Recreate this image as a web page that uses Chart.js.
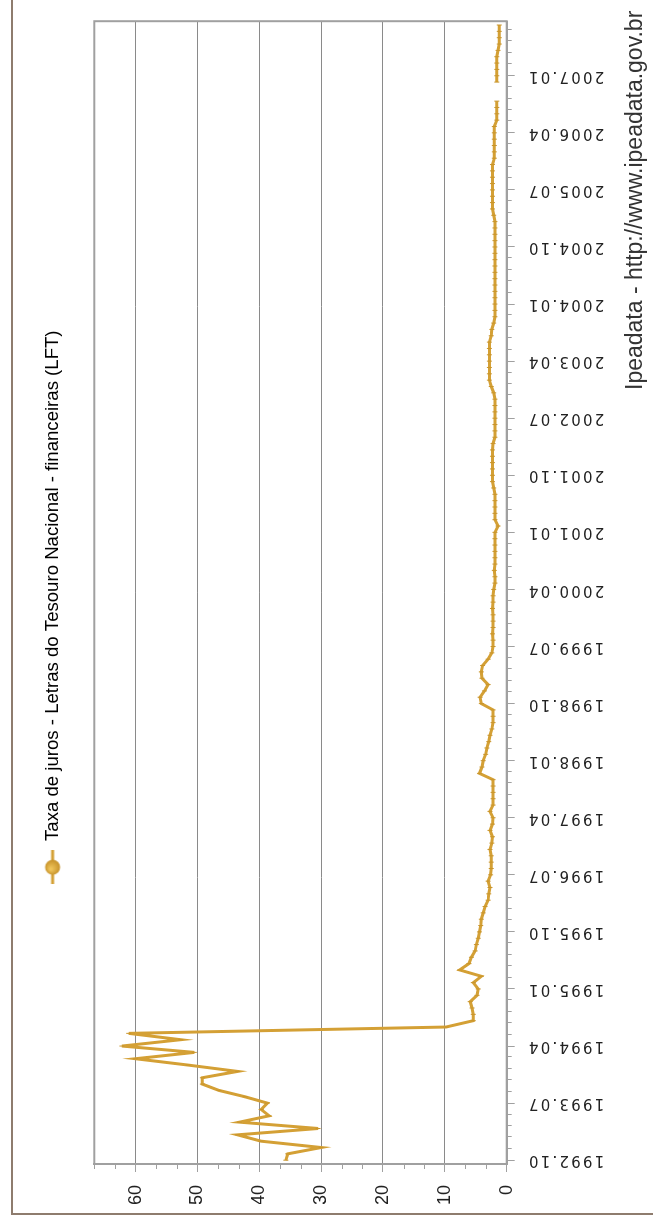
<!DOCTYPE html>
<html>
<head>
<meta charset="utf-8">
<title>Taxa de juros - LFT</title>
<script src="https://cdn.jsdelivr.net/npm/chart.js@4.4.1/dist/chart.umd.min.js"></script>
<style>
  html, body { margin: 0; padding: 0; background: #fff; overflow: hidden; }
  /* the chart is drawn landscape and turned a quarter turn to the left */
  #page { position: absolute; left: 0; top: 0; width: 1224px; height: 653px; overflow: hidden;
          transform-origin: 0 0; transform: translateY(1224px) rotate(-90deg); background: #fff; }
  #edge { position: absolute; left: 9px; top: 11px; width: 1300px; height: 700px;
          border-top: 2px solid #8e7c6e; border-left: 2px solid #8e7c6e; }
  #chart { position: absolute; left: 0; top: 0; }
</style>
</head>
<body>
<div id="page">
  <div id="edge"></div>
  <canvas id="chart" width="1224" height="653"></canvas>
</div>
<script>
const seriesLabel = 'Taxa de juros - Letras do Tesouro Nacional - financeiras (LFT)';
const source = 'Ipeadata - http://www.ipeadata.gov.br';

// monthly values, first point 1992.10, one row per 12 months
const lftRate = [
  35.7, 35.4, 30.0, 39.7, 43.5, 30.5, 43.2, 38.4, 39.7, 38.7, 42.3, 46.5,
  49.2, 49.2, 43.5, 51.5, 60.0, 50.5, 62.2, 52.7, 61.1, 9.8, 5.4, 5.4,
  5.6, 5.9, 4.8, 4.6, 5.4, 4.1, 7.6, 6.1, 5.7, 5.1, 4.9, 4.6,
  4.4, 4.2, 4.1, 3.8, 3.5, 3.0, 2.9, 2.7, 3.0, 2.6, 2.5, 2.5,
  2.5, 2.7, 2.4, 2.3, 2.7, 2.3, 2.2, 2.7, 2.2, 2.2, 2.2, 2.2,
  2.2, 4.4, 4.0, 3.8, 3.4, 3.2, 2.9, 2.7, 2.4, 2.2, 2.2, 2.2,
  4.1, 4.3, 3.6, 3.0, 4.0, 4.1, 3.9, 3.0, 2.4, 2.2, 2.2, 2.3,
  2.2, 2.2, 2.2, 2.3, 2.2, 2.2, 2.1, 1.9, 1.9, 2.0, 1.9, 1.9,
  1.9, 1.9, 1.9, 1.9, 1.4, 1.9, 1.9, 1.9, 1.9, 1.9, 2.1, 2.3,
  2.3, 2.3, 2.3, 2.3, 2.3, 2.2, 1.9, 1.9, 1.9, 1.9, 1.9, 1.9,
  1.9, 2.1, 2.5, 2.8, 2.8, 2.8, 2.8, 2.8, 2.8, 2.8, 2.5, 2.4,
  2.1, 1.9, 1.9, 1.9, 1.9, 1.9, 1.9, 1.9, 1.9, 1.9, 1.9, 1.9,
  1.9, 1.9, 1.9, 1.9, 1.9, 2.1, 2.3, 2.3, 2.3, 2.3, 2.3, 2.3,
  2.3, 2.3, 2.0, 2.0, 2.0, 2.0, 2.0, 2.0, 1.6, 1.6, 1.6, 1.6,
  null, null, 1.6, 1.6, 1.6, 1.6, 1.6, 1.4, 1.2, 1.2, 1.2, 1.2
];

// one label every 9 months
const tickLabels = [
  '1992.10', '1993.07', '1994.04', '1995.01', '1995.10', '1996.07', '1997.04',
  '1998.01', '1998.10', '1999.07', '2000.04', '2001.01', '2001.10', '2002.07',
  '2003.04', '2004.01', '2004.10', '2005.07', '2006.04', '2007.01'
];

const monthsPerTick = 1.8;   // small tick every 1.8 months, label on every 5th
const xTicks = Array.from({ length: 100 }, (_, k) => k * monthsPerTick);
const yTicks = Array.from({ length: 21 }, (_, k) => k * 10 / 3);

const gold = '#d4a035';
const axisGrey = '#a0a0a0';
const gridGrey = '#8a8a8a';

const isTen = v => Math.abs(v - Math.round(v / 10) * 10) < 0.01;

// line with a round marker, as in the legend of the original
function legendIcon() {
  const c = document.createElement('canvas');
  c.width = 34; c.height = 18;
  const g = c.getContext('2d');
  g.strokeStyle = gold; g.lineWidth = 3;
  g.beginPath(); g.moveTo(0, 9); g.lineTo(34, 9); g.stroke();
  const grad = g.createRadialGradient(15, 7, 1, 17, 9, 8);
  grad.addColorStop(0, '#efc45a');
  grad.addColorStop(1, '#c48f27');
  g.fillStyle = grad;
  g.beginPath(); g.arc(17, 9, 7.5, 0, Math.PI * 2); g.fill();
  return c;
}

// leave the same room above the plot as the original
const legendRoom = {
  id: 'legendRoom',
  beforeInit(chart) {
    const fit = chart.legend.fit;
    chart.legend.fit = function () {
      fit.call(this);
      this.height = 84;
    };
  },
  // the date labels of the original are spaced out
  afterLayout(chart) {
    const sc = chart.scales.x;
    if (sc._spaced) return;
    const draw = sc.drawLabels;
    sc.drawLabels = function (area) {
      this.ctx.letterSpacing = '2.2px';
      draw.call(this, area);
      this.ctx.letterSpacing = '0px';
    };
    sc._spaced = true;
  }
};

// grey box round the plot
const plotFrame = {
  id: 'plotFrame',
  beforeDatasetsDraw(chart) {
    const { ctx, chartArea: a } = chart;
    ctx.save();
    ctx.strokeStyle = axisGrey;
    ctx.lineWidth = 2;
    ctx.strokeRect(a.left, a.top, a.right - a.left, a.bottom - a.top);
    ctx.restore();
  }
};

// short ticks between the labelled ones
const minorTicks = {
  id: 'minorTicks',
  afterDatasetsDraw(chart) {
    const { ctx, chartArea: a, scales: { x, y } } = chart;
    ctx.save();
    ctx.strokeStyle = axisGrey;
    ctx.lineWidth = 1;
    ctx.beginPath();
    x.ticks.forEach((t, i) => {
      if (i % 5 === 0) return;
      const px = Math.round(x.getPixelForValue(t.value)) + 0.5;
      ctx.moveTo(px, a.bottom);
      ctx.lineTo(px, a.bottom + 5);
    });
    y.ticks.forEach(t => {
      if (isTen(t.value)) return;
      const py = Math.round(y.getPixelForValue(t.value)) + 0.5;
      ctx.moveTo(a.left - 5, py);
      ctx.lineTo(a.left, py);
    });
    ctx.stroke();
    ctx.restore();
  }
};

const icon = legendIcon();

new Chart(document.getElementById('chart'), {
  type: 'line',
  data: {
    labels: lftRate.map((_, i) => i),
    datasets: [{
      label: seriesLabel,
      data: lftRate,
      borderColor: gold,
      backgroundColor: gold,
      borderWidth: 3,
      tension: 0,
      spanGaps: false,
      pointStyle: 'line',
      pointRotation: 90,
      pointRadius: 2.5,
      pointBorderWidth: 1,
      pointBorderColor: '#c9952c'
    }]
  },
  options: {
    responsive: false,
    animation: false,
    devicePixelRatio: 1,
    layout: { padding: { top: 10.3, left: 20, right: 10.7, bottom: 0 } },
    plugins: {
      legend: {
        position: 'top',
        labels: {
          usePointStyle: true,
          pointStyleWidth: 34,
          padding: 33,
          color: '#222',
          font: { family: 'Liberation Sans', size: 18.6 },
          generateLabels: () => [{
            text: seriesLabel, pointStyle: icon, fillStyle: gold, strokeStyle: gold,
            lineWidth: 0, hidden: false, datasetIndex: 0
          }]
        }
      },
      subtitle: {
        display: true,
        text: source,
        position: 'bottom',
        align: 'end',
        color: '#333',
        font: { family: 'Liberation Sans', size: 23, weight: 'normal' },
        padding: { top: 0, bottom: 4 }
      },
      tooltip: { enabled: false }
    },
    scales: {
      x: {
        type: 'linear',
        min: -0.6,
        max: 179.6,
        afterBuildTicks: s => { s.ticks = xTicks.map(v => ({ value: v })); },
        afterFit: s => { s.height = 114.7; },
        ticks: {
          autoSkip: false,
          minRotation: 90,
          maxRotation: 90,
          padding: 12,
          color: '#222',
          font: { family: 'DejaVu Sans', size: 15 },
          callback: (v, i) => (i % 5 === 0 ? tickLabels[i / 5] : '')
        },
        grid: {
          drawOnChartArea: false,
          tickLength: 8,
          tickColor: c => (c.index % 5 === 0 ? axisGrey : 'transparent')
        },
        border: { color: axisGrey, width: 2 }
      },
      y: {
        min: 0,
        max: 200 / 3,
        afterBuildTicks: s => { s.ticks = yTicks.map(v => ({ value: v })); },
        afterFit: s => { s.width = 40; },
        ticks: {
          autoSkip: false,
          padding: 13,
          color: '#222',
          font: { family: 'Liberation Sans', size: 18 },
          callback: v => (isTen(v) ? String(Math.round(v)) : '')
        },
        grid: {
          color: c => (c.tick && isTen(c.tick.value) ? gridGrey : 'transparent'),
          tickLength: 8,
          tickColor: c => (c.tick && isTen(c.tick.value) ? axisGrey : 'transparent')
        },
        border: { color: axisGrey, width: 2 }
      }
    }
  },
  plugins: [legendRoom, plotFrame, minorTicks]
});
</script>
</body>
</html>
